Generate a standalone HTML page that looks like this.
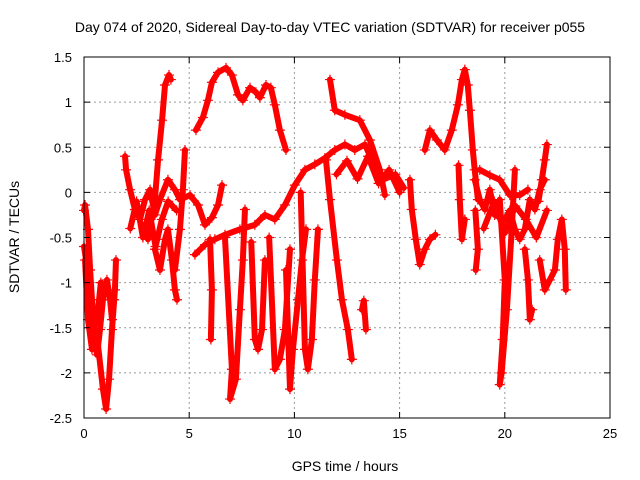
<!DOCTYPE html>
<html><head><meta charset="utf-8"><style>
body{margin:0;background:#fff;}
svg{display:block;font-family:"Liberation Sans",sans-serif;}
</style></head><body>
<svg id="chart" width="640" height="480" viewBox="0 0 640 480">
<rect width="640" height="480" fill="#fff"/>
<text x="330" y="32" font-size="14" text-anchor="middle">Day 074 of 2020, Sidereal Day-to-day VTEC variation (SDTVAR) for receiver p055</text>
<text x="345" y="471" font-size="14" text-anchor="middle">GPS time / hours</text>
<text x="0" y="0" font-size="14" text-anchor="middle" transform="translate(19,237) rotate(-90)">SDTVAR / TECUs</text>
<g id="grid"></g><g id="marks"></g><g id="axes"></g>
</svg>
<script>
const xTicks=[0,5,10,15,20,25];
const yTicks=[1.5,1,0.5,0,-0.5,-1,-1.5,-2,-2.5];
const yTickLabels=["1.5","1","0.5","0","-0.5","-1","-1.5","-2","-2.5"];
const trackArch={h:[5.32,5.65,5.89,6.08,6.37,6.75,7.03,7.32,7.55,7.89,8.17,8.36,8.65,8.88,9.07,9.31,9.60],v:[0.69,0.83,1.02,1.22,1.33,1.38,1.30,1.08,1.02,1.16,1.11,1.05,1.19,1.16,0.97,0.69,0.47]};
const trackSpike4={h:[3.04,3.37,3.52,3.71,3.85,4.04,4.13],v:[-0.52,-0.08,0.36,0.80,1.19,1.30,1.25]};
const trackEarly1={h:[0.0,0.05,0.19,0.29,0.38,0.52,0.62,0.76,0.90,1.09,1.24,1.33,1.43],v:[-0.2,-0.14,-0.41,-0.86,-1.19,-1.63,-1.80,-1.52,-1.19,-0.97,-1.19,-1.41,-1.19]};
const trackEarly2={h:[0.05,0.19,0.38,0.62,0.90,1.05,1.19,1.33,1.47,1.52],v:[-0.75,-1.41,-1.74,-1.6,-2.18,-2.40,-2.07,-1.52,-1.08,-0.75]};
const trackEarly3={h:[0.0,0.2,0.4,0.6,0.8],v:[-0.6,-0.9,-1.3,-1.45,-1.0]};
const trackMid={h:[1.95,2.0,2.19,2.42,2.66,2.90,3.14,3.37,3.61,3.99,4.32,4.56,5.04,5.42,5.75,6.08,6.37,6.56],v:[0.40,0.25,0.03,-0.19,-0.30,-0.08,0.03,-0.25,-0.08,0.14,0.03,-0.08,-0.03,-0.14,-0.36,-0.28,-0.14,0.08]};
const trackCluster3={h:[2.2,2.5,2.8,3.1,3.4,3.7,4.0,4.4],v:[-0.4,-0.1,-0.5,-0.2,-0.6,-0.3,-0.1,-0.2]};
const trackLowBand={h:[5.27,5.75,6.22,6.70,7.41,8.12,8.60,9.07,9.55,10.02,10.50,10.97,11.45,11.92,12.40,12.87,13.35,13.8,14.3,14.8,15.2],v:[-0.69,-0.58,-0.52,-0.47,-0.41,-0.36,-0.25,-0.30,-0.14,0.08,0.25,0.31,0.38,0.47,0.53,0.47,0.53,0.30,0.15,0.2,0.05]};
const trackBand13={h:[12.0,12.5,13.0,13.5,14.0,14.5,15.0],v:[0.2,0.35,0.15,0.4,0.1,0.25,0.0]};
const trackHump4={h:[3.37,3.61,3.85,3.99,4.18,4.32,4.42],v:[-0.63,-0.86,-0.52,-0.41,-0.75,-1.08,-1.19]};
const trackRise5={h:[4.32,4.56,4.70,4.80],v:[-0.86,-0.41,0.03,0.47]};
const trackV1={h:[5.99,6.08,6.03],v:[-0.52,-1.08,-1.63]};
const trackV2={h:[6.7,7.03,6.94,7.22,7.41,7.55,7.65],v:[-0.5,-1.96,-2.29,-2.07,-1.30,-0.75,-0.19]};
const trackV3={h:[7.95,8.12,8.27,8.46,8.60],v:[-0.55,-1.63,-1.74,-1.52,-0.75]};
const trackV4={h:[8.8,9.07,9.31,9.55,9.79],v:[-0.5,-1.96,-1.85,-1.52,-0.63]};
const trackV5={h:[9.60,9.79,9.93,10.17,10.36,10.55],v:[-0.86,-2.18,-1.74,-1.19,-0.75,-0.41]};
const trackV6={h:[10.3,10.50,10.64,10.83,10.97,11.12],v:[0.0,-1.74,-1.96,-1.63,-0.97,-0.41]};
const trackV7={h:[11.50,11.69,12.02,12.26,12.54,12.73],v:[0.36,-0.08,-0.75,-1.19,-1.52,-1.85]};
const trackHigh12={h:[11.69,11.92,12.40,13.11,13.59,14.06,14.30],v:[1.25,0.91,0.86,0.80,0.58,0.25,-0.03]};
const trackSmall13={h:[13.21,13.3,13.40],v:[-1.30,-1.2,-1.52]};
const trackDip16={h:[15.49,15.58,15.77,15.96,16.2,16.44,16.7],v:[0.14,-0.19,-0.52,-0.80,-0.63,-0.52,-0.47]};
const trackPeak18={h:[16.2,16.44,16.77,17.15,17.48,17.77,17.96,18.1,18.24,18.34,18.48,18.57,18.72],v:[0.47,0.69,0.58,0.47,0.69,0.97,1.25,1.36,1.19,0.91,0.47,0.25,-0.08]};
const trackDrop18={h:[17.8,17.86,17.96,18.1],v:[0.3,-0.08,-0.52,-0.3]};
const trackLate1={h:[18.57,18.81,19.05,19.29,19.52,20.0,20.24,20.48,20.71,20.95,21.19,21.43,21.66,21.9],v:[0.14,-0.08,-0.19,0.03,-0.25,-0.30,-0.2,-0.41,-0.52,-0.41,-0.08,-0.19,0.03,0.14]};
const trackLate2={h:[18.81,19.29,19.76,20.24,20.71,21.1],v:[0.25,0.19,0.14,-0.03,-0.03,0.03]};
const trackBand20={h:[19.0,19.5,20.0,20.5,21.0,21.5,22.0],v:[-0.4,-0.1,-0.45,-0.15,-0.3,-0.5,-0.2]};
const trackV20={h:[19.76,20.0,19.9,19.76,19.85,20.1,20.33,20.48],v:[-0.08,-0.97,-1.63,-2.13,-2.0,-1.30,-0.41,0.25]};
const trackLate3={h:[20.95,21.1,21.19,21.3],v:[-0.63,-0.97,-1.41,-1.3]};
const trackLate4={h:[21.66,21.9,22.14,22.38,22.52,22.71,22.85,22.9],v:[-0.75,-1.08,-0.97,-0.86,-0.52,-0.30,-0.63,-1.08]};
const trackLate5={h:[21.6,21.76,21.9,22.0],v:[-0.1,0.14,0.36,0.53]};
const trackDrop19={h:[18.6,18.72,18.62],v:[-0.2,-0.63,-0.86]};
const tracks=[trackArch,trackSpike4,trackEarly1,trackEarly2,trackEarly3,trackMid,trackCluster3,trackLowBand,trackBand13,trackHump4,trackRise5,trackV1,trackV2,trackV3,trackV4,trackV5,trackV6,trackV7,trackHigh12,trackSmall13,trackDip16,trackPeak18,trackDrop18,trackLate1,trackLate2,trackBand20,trackV20,trackLate3,trackLate4,trackLate5,trackDrop19];

const L=84,R=610,T=57,B=418;
const xs=h=>L+(h-0)/(25-0)*(R-L);
const ys=v=>T+(1.5-v)/(1.5+2.5)*(B-T);
const NS='http://www.w3.org/2000/svg';
const grid=document.getElementById('grid'),marks=document.getElementById('marks'),axes=document.getElementById('axes');
function mk(tag,attrs,parent){const e=document.createElementNS(NS,tag);for(const k in attrs)e.setAttribute(k,attrs[k]);parent.appendChild(e);return e;}
xTicks.forEach((t,i)=>{
  const x=xs(t);
  if(i>0&&i<xTicks.length-1){const g=mk('line',{x1:x,x2:x,y1:T,y2:B,stroke:'#999','stroke-dasharray':'2,3'},grid);
  
  }
  const lb=mk('text',{x:x,y:B+20,'font-size':13,'text-anchor':'middle'},axes);lb.textContent=String(t);
  
  
  mk('line',{x1:x,x2:x,y1:B,y2:B-6,stroke:'#000'},axes);mk('line',{x1:x,x2:x,y1:T,y2:T+6,stroke:'#000'},axes);
});
yTicks.forEach((t,i)=>{
  const y=ys(t);
  if(i>0&&i<yTicks.length-1){const g=mk('line',{x1:L,x2:R,y1:y,y2:y,stroke:'#999','stroke-dasharray':'2,3'},grid);
  
  }
  const lb=mk('text',{x:L-12,y:y+5,'font-size':13,'text-anchor':'end'},axes);lb.textContent=yTickLabels[i];
  
  
  mk('line',{x1:L,x2:L+6,y1:y,y2:y,stroke:'#000'},axes);mk('line',{x1:R,x2:R-6,y1:y,y2:y,stroke:'#000'},axes);
});
const frame=mk('rect',{x:L,y:T,width:R-L,height:B-T,fill:'none',stroke:'#000'},axes);


tracks.forEach(tr=>{
  const pts=tr.h.map((h,i)=>xs(h)+','+ys(tr.v[i])).join(' ');
  const pl=mk('polyline',{points:pts,fill:'none',stroke:'#f00','stroke-width':6,'stroke-linejoin':'round','stroke-linecap':'round'},marks);
  
  
  tr.h.forEach((h,i)=>{
    const x=xs(h),y=ys(tr.v[i]);
    const p=mk('path',{d:`M${x-5},${y}H${x+5}M${x},${y-5}V${y+5}`,stroke:'#f00','stroke-width':1.2},marks);
    
    
  });
});
</script>
</body></html>
